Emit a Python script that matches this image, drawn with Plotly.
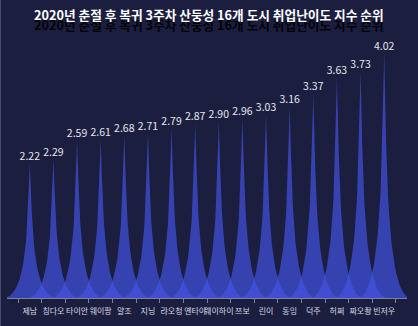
import plotly.graph_objects as go
import numpy as np

cities = ["제남", "칭다오", "타이안", "웨이팡", "얄조", "지닝", "랴오청", "옌타이",
          "웨이하이", "쯔보", "린이", "동잉", "덕주", "허쩌", "짜오좡", "빈저우"]
values = [2.22, 2.29, 2.59, 2.61, 2.68, 2.71, 2.79, 2.87,
          2.90, 2.96, 3.03, 3.16, 3.37, 3.63, 3.73, 4.02]
title = "2020년 춘절 후 복귀 3주차 산둥성 16개 도시 취업난이도 지수 순위"

BG = "#1b1e3f"
SPIKE_W = 2.3  # spike width in category units (overlapping spikes)


def bezier(p0, p1, p2, p3, n=40):
    t = np.linspace(0, 1, n)[:, None]
    p0, p1, p2, p3 = map(np.array, (p0, p1, p2, p3))
    return ((1 - t) ** 3) * p0 + 3 * ((1 - t) ** 2) * t * p1 + 3 * (1 - t) * t ** 2 * p2 + t ** 3 * p3


def spike(cx, h):
    # unit spike path (0..10 box, y down): M0,10 L10,10 C5.5,10 5.5,5 5,0 C4.5,5 4.5,10 0,10 z
    right = bezier((10, 10), (5.5, 10), (5.5, 5), (5, 0))
    left = bezier((5, 0), (4.5, 5), (4.5, 10), (0, 10))
    pts = np.vstack([[0, 10], right, left])
    xs = cx + (pts[:, 0] / 10 - 0.5) * SPIKE_W
    ys = h * (1 - pts[:, 1] / 10)
    return xs, ys


fig = go.Figure()
for i, v in enumerate(values):
    xs, ys = spike(i, v)
    fig.add_trace(go.Scatter(x=xs, y=ys, mode="lines", fill="toself",
                             fillcolor="rgba(68,84,228,0.68)", line=dict(width=0),
                             hoverinfo="skip", showlegend=False))

fig.add_trace(go.Scatter(x=list(range(len(values))), y=values, mode="text",
                         text=[f"{v:.2f}" for v in values], textposition="top center",
                         textfont=dict(family="Noto Sans CJK KR", size=10.5, color="#e6e6ee"),
                         showlegend=False, hoverinfo="skip"))

n = len(values)
PLOT_TOP, PLOT_H = 40, 258
fig.update_layout(
    width=418, height=326,
    margin=dict(l=7, r=11, t=PLOT_TOP, b=28),
    paper_bgcolor=BG, plot_bgcolor=BG,
    xaxis=dict(range=[-0.966, n - 1 + 0.966], tickvals=list(range(n)), ticktext=cities,
               ticks="", showgrid=False, zeroline=False, showline=True, tickangle=0,
               linecolor="#7d8198", linewidth=1, ticklabelstandoff=5,
               tickfont=dict(family="Noto Sans CJK KR", size=8, color="#d8d8e2"),
               minor=dict(tickvals=[i - 0.5 for i in range(n + 1)], ticks="outside",
                          ticklen=4, tickcolor="#7d8198", tickwidth=1, showgrid=False)),
    yaxis=dict(range=[0, PLOT_H / 61], visible=False, showgrid=False, zeroline=False),
    font=dict(family="Noto Sans CJK KR"),
)


def py(px):
    return 1 + (PLOT_TOP - px) / PLOT_H


# title with dark reflection underneath
fig.add_annotation(xref="paper", yref="paper", x=0.505, y=py(25),
                   text=f"<b>{title}</b>", showarrow=False, yanchor="middle",
                   font=dict(family="Noto Sans CJK KR", size=12.7, color="#030308"))
fig.add_annotation(xref="paper", yref="paper", x=0.505, y=py(14),
                   text=f"<b>{title}</b>", showarrow=False, yanchor="middle",
                   font=dict(family="Noto Sans CJK KR", size=12.7, color="#ffffff"))

# subtle frame edge
fig.add_shape(type="line", xref="paper", yref="paper", x0=-7 / 400, x1=-7 / 400,
              y0=-28 / 258, y1=1 + 40 / 258, line=dict(color="#5a5d78", width=1.5))

fig.write_html("out.html")
